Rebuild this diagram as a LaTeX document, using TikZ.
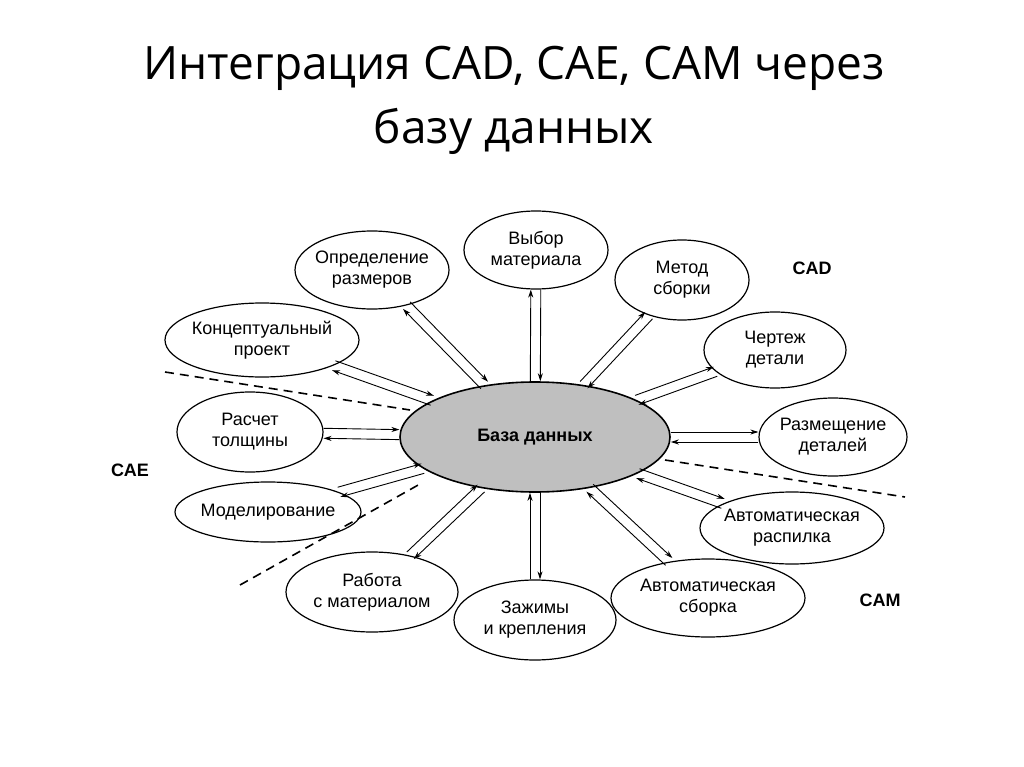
\documentclass[tikz,border=0pt]{standalone}
\usepackage{fontspec}
\setmainfont{Liberation Sans}
\newfontfamily\titlefont{Open Sans}
\usetikzlibrary{shapes.geometric,arrows.meta}

\begin{document}
\begin{tikzpicture}[x=1pt,y=-1pt,
    topic/.style={draw,ellipse,line width=1.2pt,inner xsep=-16pt,inner ysep=-5pt,align=center,font=\fontsize{18}{21}\selectfont},
    hub/.style={topic,fill=black!25,line width=1.6pt,font=\bfseries\fontsize{18}{21}\selectfont},
    link/.style={line width=.9pt,-{Stealth[length=8pt,width=5pt]}},
    zone/.style={font=\bfseries\fontsize{18}{20}\selectfont},
    border/.style={dashed,line width=1.6pt,dash pattern=on 9pt off 6pt}]
  \useasboundingbox (0,0) rectangle (1024,767);

  %% Title
  \node[font=\titlefont\fontsize{46}{64}\selectfont,align=center] (title) at (514,100)
    {Интеграция CAD, CAE, CAM через\\ базу данных};

  %% Central database
  \node[hub,minimum width=270,minimum height=110] (db) at (535,437) {База данных};

  %% Surrounding tasks
  \node[topic,minimum width=144,minimum height=78] (mat)  at (536,250) {Выбор\\материала};
  \node[topic,minimum width=154,minimum height=78] (size) at (372,270) {Определение\\размеров};
  \node[topic,minimum width=134,minimum height=80] (asm)  at (682,280) {Метод\\сборки};
  \node[topic,minimum width=194,minimum height=74] (conc) at (262,340) {Концептуальный\\проект};
  \node[topic,minimum width=142,minimum height=76] (draw) at (775,350) {Чертеж\\детали};
  \node[topic,minimum width=146,minimum height=80] (thk)  at (250,432) {Расчет\\толщины};
  \node[topic,minimum width=148,minimum height=78] (plc)  at (833,437) {Размещение\\деталей};
  \node[topic,minimum width=186,minimum height=60] (mod)  at (268,512) {Моделирование};
  \node[topic,minimum width=184,minimum height=72] (saw)  at (792,528) {Автоматическая\\распилка};
  \node[topic,minimum width=172,minimum height=80] (work) at (372,592) {Работа\\с материалом};
  \node[topic,minimum width=162,minimum height=80] (clmp) at (535,620) {Зажимы\\и крепления};
  \node[topic,minimum width=194,minimum height=78] (aasm) at (708,598) {Автоматическая\\сборка};

  %% Paired arrows to and from the base
  \foreach \nd in {mat,size,asm,conc,draw,thk,plc,mod,saw,work,clmp,aasm}{
    \pgfmathanglebetweenpoints{\pgfpointanchor{\nd}{center}}{\pgfpointanchor{db}{center}}
    \let\ang\pgfmathresult
    \begin{scope}[transform canvas={shift={(\ang+90:5pt)}}]
      \draw[link] (\nd) -- (db);
    \end{scope}
    \begin{scope}[transform canvas={shift={(\ang-90:5pt)}}]
      \draw[link] (db) -- (\nd);
    \end{scope}
  }

  %% Zone borders
  \coordinate (b1a) at (165,372); \coordinate (b1b) at (410,410);
  \coordinate (b2a) at (240,585); \coordinate (b2b) at (420,484);
  \coordinate (b3a) at (665,460); \coordinate (b3b) at (905,497);
  \draw[border] (b1a) -- (b1b);
  \draw[border] (b2a) -- (b2b);
  \draw[border] (b3a) -- (b3b);

  %% Zone labels
  \node[zone] (cad) at (812,268) {CAD};
  \node[zone] (cae) at (130,470) {CAE};
  \node[zone] (cam) at (880,600) {CAM};
\end{tikzpicture}
\end{document}
